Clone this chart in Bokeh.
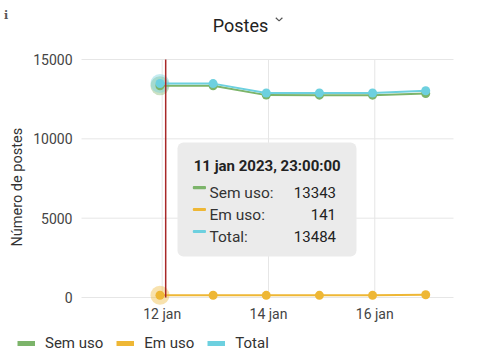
import numpy as np
from bokeh.plotting import figure
from bokeh.models import (ColumnDataSource, Range1d, FixedTicker, Label,
                          BoxAnnotation, Legend, LegendItem, LinearAxis,
                          DatetimeAxis)
from bokeh.embed import file_html
from bokeh.resources import INLINE

# ---------------- data ----------------
dates = ["2023-01-11T23:00", "2023-01-12T23:00", "2023-01-13T23:00",
         "2023-01-14T23:00", "2023-01-15T23:00", "2023-01-16T23:00"]
sem_uso = [13343, 13340, 12755, 12752, 12752, 12858]
em_uso = [141, 140, 136, 136, 137, 172]
total = [13484, 13480, 12891, 12888, 12889, 13030]
series_names = ["Sem uso", "Em uso", "Total"]
series_colors = ["#7cb46a", "#eeb735", "#6dd0df"]
y_ticks = [0, 5000, 10000, 15000]
x_tick_dates = ["2023-01-12", "2023-01-14", "2023-01-16"]
x_tick_labels = ["12 jan", "14 jan", "16 jan"]
x_start, x_end = "2023-01-10T11:34", "2023-01-17T11:33"
y_start, y_end = 0, 15000
marker_time = "2023-01-12T01:35"
tooltip_title = "11 jan 2023, 23:00:00"
hover_index = 0


def ms(s):
    return int(np.datetime64(s, "ms").astype("int64"))


x_ms = [ms(d) for d in dates]
src = ColumnDataSource(dict(x=x_ms, sem=sem_uso, em=em_uso, tot=total))

FONT = "Roboto"
W, H = 484, 362
PA_L, PA_R, PA_T, PA_B = 81, 453, 59, 297    # plot area in page pixels
xs, xe = ms(x_start), ms(x_end)


def xd(px):
    return xs + (px - PA_L) / (PA_R - PA_L) * (xe - xs)


def yd(py):
    return y_start + (PA_B - py) / (PA_B - PA_T) * (y_end - y_start)


p = figure(width=W, height=H, output_backend="svg", toolbar_location=None,
           x_axis_type="datetime", x_axis_location=None, y_axis_location=None,
           x_range=Range1d(xd(0), xd(W)), y_range=Range1d(yd(H), yd(0)),
           min_border=0, min_border_left=0, min_border_right=0,
           min_border_top=0, min_border_bottom=0)
p.outline_line_color = None
p.background_fill_color = "white"
p.border_fill_color = "white"
p.grid.visible = False

# axes at fixed locations along the plot area
yax = LinearAxis(fixed_location=xs, ticker=FixedTicker(ticks=y_ticks))
tick_ms = [ms(d) for d in x_tick_dates]
xax = DatetimeAxis(fixed_location=y_start, ticker=FixedTicker(ticks=tick_ms))
xax.major_label_overrides = {t: l for t, l in zip(tick_ms, x_tick_labels)}
for ax in (xax, yax):
    ax.axis_line_color = None
    ax.major_tick_line_color = None
    ax.minor_tick_line_color = None
    ax.major_tick_out = 0
    ax.major_label_text_font = FONT
    ax.major_label_text_font_size = "14px"
    ax.major_label_text_color = "#444444"
yax.major_label_standoff = 9
xax.major_label_standoff = 8
p.add_layout(yax, "left")
p.add_layout(xax, "below")

# grid lines limited to the plot area
p.segment(x0=tick_ms, x1=tick_ms, y0=[y_start] * len(tick_ms),
          y1=[y_end] * len(tick_ms), line_color="#e6e6e6", line_width=1)
p.segment(x0=[xs] * len(y_ticks), x1=[xe] * len(y_ticks), y0=y_ticks,
          y1=y_ticks, line_color="#e6e6e6", line_width=1)

# halos for hovered point
cols = ["sem", "em", "tot"]
hx = [x_ms[hover_index]]
for c, col in zip(cols, series_colors):
    val = src.data[c][hover_index]
    p.scatter(x=hx, y=[val], size=19, fill_color=col, fill_alpha=0.4,
              line_color=None)

# series
for c, col in zip(cols, series_colors):
    p.line(x="x", y=c, source=src, line_color=col, line_width=2)
    p.scatter(x="x", y=c, source=src, size=9, fill_color=col, line_color=None)

# vertical marker line
mt = ms(marker_time)
p.segment(x0=[mt], x1=[mt], y0=[y_start], y1=[y_end], line_color="#a82828",
          line_width=1.5)

# tooltip
p.add_layout(BoxAnnotation(left=xd(177), right=xd(356), top=yd(142),
                           bottom=yd(256), fill_color="#ebebeb", fill_alpha=1,
                           line_color=None, border_radius=6))


def lab(px, py, text, size="15px", align="left", bold=False, color="#333333",
        font=FONT, baseline="alphabetic", angle=0.0):
    p.add_layout(Label(x=px, y=H - py, x_units="screen", y_units="screen",
                       text=text, text_font=font, text_font_size=size,
                       text_align=align, text_baseline=baseline, angle=angle,
                       text_font_style="bold" if bold else "normal",
                       text_color=color))


lab(266.7, 165.5, tooltip_title, size="15px", align="center", bold=True,
    color="#222222")
row_base = [192.3, 214.2, 236.2]
vals = [sem_uso[hover_index], em_uso[hover_index], total[hover_index]]
for name, col, v, b in zip(series_names, series_colors, vals, row_base):
    p.add_layout(BoxAnnotation(left=xd(192.3), right=xd(205.5),
                               top=yd(b - 6.8), bottom=yd(b - 3.6),
                               fill_color=col, fill_alpha=1, line_color=None,
                               border_radius=1))
    lab(209, b, name + ":", size="15.5px")
    lab(335.5, b, str(v), size="15px", align="right", color="#222222")

# titles / labels
lab(240, 25, "Postes", size="18px", align="center", color="#222222")
# small dropdown chevron next to the title
p.line(x=[xd(275.3), xd(278.6), xd(281.9)], y=[yd(17.2), yd(20.4), yd(17.2)],
       line_color="#555555", line_width=1.2)
lab(3.5, 15, "i", size="11px", bold=True, color="#555555", font="DejaVu Serif")
lab(17, 186.7, "Número de postes", size="14.5px", align="center",
    baseline="middle", angle=np.pi / 2)

# legend (thick short dashes as in the reference)
leg_items = []
nan = float("nan")
for name, col in zip(series_names, series_colors):
    r = p.line(x=[x_ms[0], x_ms[1]], y=[nan, nan], line_color=col,
               line_width=5)
    leg_items.append(LegendItem(label=name, renderers=[r]))
legend = Legend(items=leg_items, orientation="horizontal",
                location=(17, H - 352), glyph_width=18, glyph_height=16,
                label_height=16, label_standoff=10, spacing=13, padding=0,
                margin=0, border_line_color=None, background_fill_alpha=0,
                label_text_font=FONT, label_text_font_size="15px",
                label_text_color="#333333")
p.add_layout(legend)

open("out.html", "w").write(file_html(p, INLINE))
